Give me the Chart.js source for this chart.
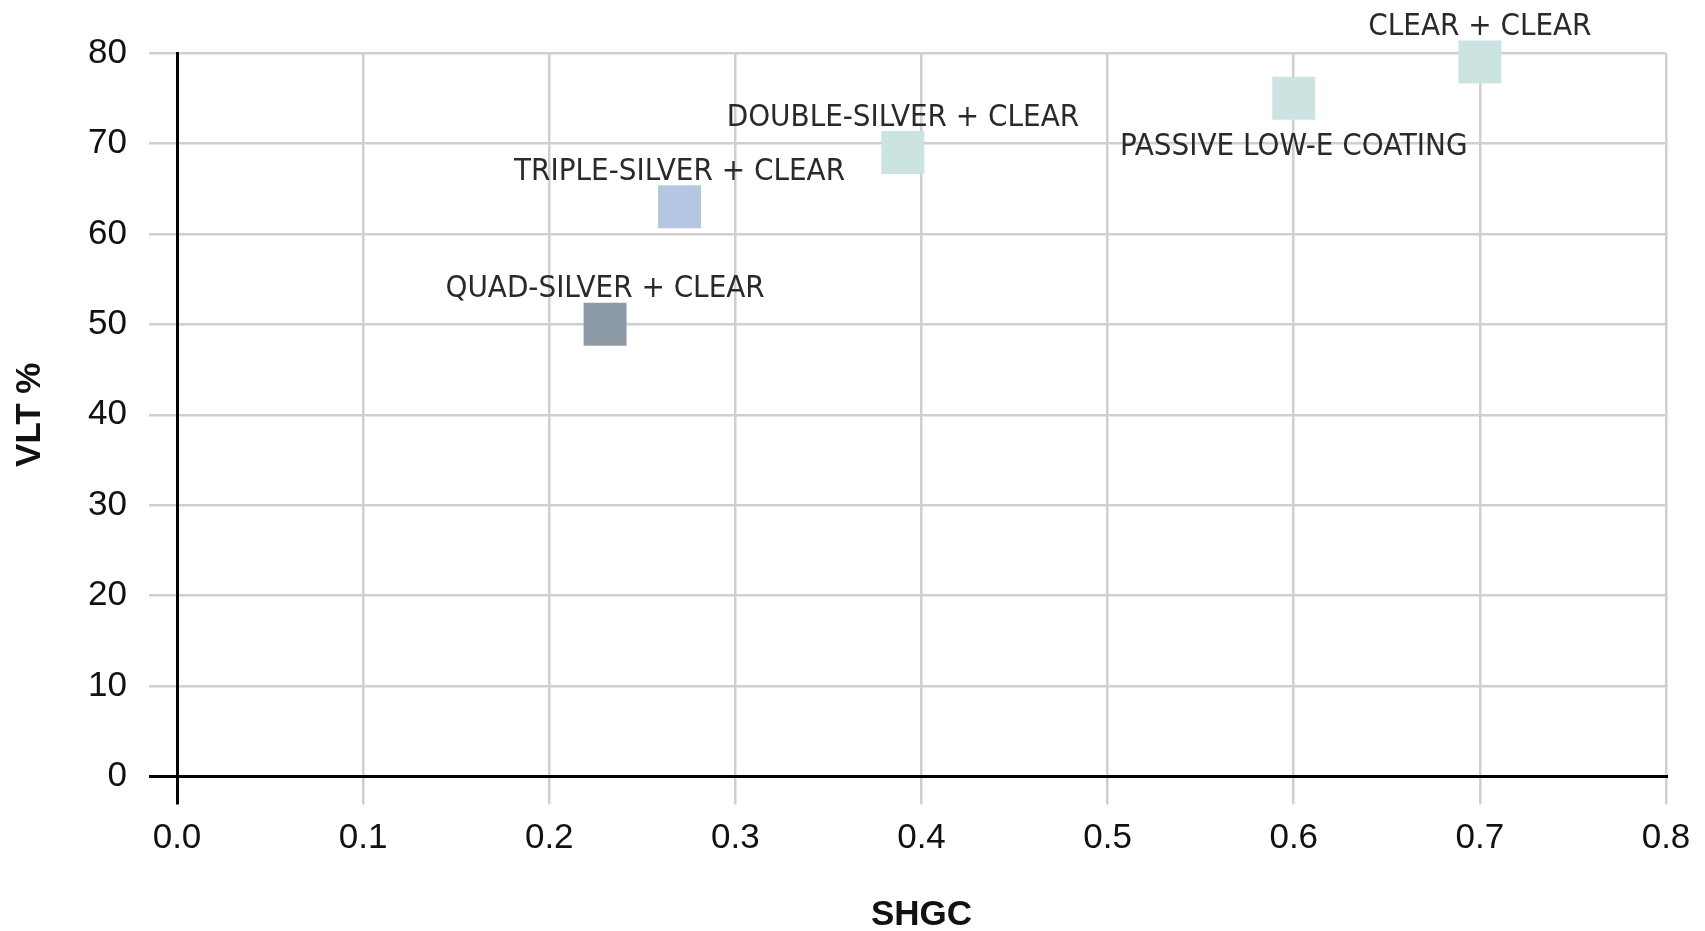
<!DOCTYPE html>
<html>
<head>
<meta charset="utf-8">
<script src="https://cdn.jsdelivr.net/npm/chart.js@4.4.1/dist/chart.umd.min.js"></script>
<style>
  html, body { margin: 0; padding: 0; background: #fff; }
  #wrap { width: 1705px; height: 931px; position: relative; }
</style>
</head>
<body>
<div id="wrap"><canvas id="c"></canvas></div>
<script>
// ---- data ----
const glazingNames = ['QUAD-SILVER + CLEAR', 'TRIPLE-SILVER + CLEAR', 'DOUBLE-SILVER + CLEAR', 'PASSIVE LOW-E COATING', 'CLEAR + CLEAR'];
const shgcValues = [0.23, 0.27, 0.39, 0.60, 0.70];
const vltValues = [50, 63, 69, 75, 79];
const labelSide = ['above', 'above', 'above', 'below', 'above'];
const pointColors = ['#8d9ba7', '#b5c6e3', '#cbe4e2', '#cbe4e2', '#cbe4e2'];
const xTitle = 'SHGC';
const yTitle = 'VLT %';

const NARROW = '"Liberation Sans Narrow", "Arial Narrow", "DejaVu Sans Condensed", "Liberation Sans", sans-serif';
const REG = '"Liberation Sans", Arial, sans-serif';

const pointLabels = {
  id: 'pointLabels',
  afterDatasetsDraw(chart) {
    const ctx = chart.ctx;
    const meta = chart.getDatasetMeta(0);
    ctx.save();
    ctx.font = '31px ' + NARROW;
    ctx.fillStyle = '#2a2a2a';
    ctx.textAlign = 'center';
    ctx.textBaseline = 'middle';
    meta.data.forEach((el, i) => {
      const dy = labelSide[i] === 'below' ? 49 : -35;
      ctx.fillText(glazingNames[i], el.x, el.y + dy);
    });
    ctx.restore();
  }
};

const gridColor = (c) => (c.tick && c.tick.value === 0) ? '#000' : '#cfcfcf';
const gridWidth = (c) => (c.tick && c.tick.value === 0) ? 3 : 2.5;

new Chart(document.getElementById('c'), {
  type: 'scatter',
  data: {
    datasets: [{
      data: shgcValues.map((x, i) => ({ x: x, y: vltValues[i] })),
      backgroundColor: pointColors,
      borderWidth: 0,
      pointStyle: 'rect',
      pointRadius: 30.4,
      pointHoverRadius: 30.4,
      clip: false
    }]
  },
  options: {
    responsive: true,
    maintainAspectRatio: false,
    animation: false,
    events: [],
    layout: { padding: { top: 53, right: 39, bottom: 0, left: 0 } },
    plugins: { legend: { display: false }, tooltip: { enabled: false } },
    scales: {
      x: {
        type: 'linear',
        min: 0, max: 0.8,
        afterFit(s) { s.height = 154.5; },
        ticks: {
          stepSize: 0.1,
          padding: 13,
          color: '#111',
          font: { family: REG, size: 35 },
          callback: (v) => Number(v).toFixed(1)
        },
        grid: { color: gridColor, lineWidth: gridWidth, tickLength: 28 },
        border: { display: true, color: '#000', width: 3 },
        title: {
          display: true, text: xTitle, color: '#111',
          font: { family: REG, size: 35, weight: 'bold', lineHeight: 1 },
          padding: { top: 0, bottom: -2 }
        }
      },
      y: {
        type: 'linear',
        min: 0, max: 80,
        afterFit(s) { s.width = 177; },
        ticks: {
          stepSize: 10,
          padding: 22,
          color: '#111',
          font: { family: REG, size: 35 }
        },
        grid: { color: gridColor, lineWidth: gridWidth, tickLength: 28 },
        border: { display: true, color: '#000', width: 3 },
        title: {
          display: true, text: yTitle, color: '#111',
          font: { family: REG, size: 35, weight: 'bold', lineHeight: 1 },
          padding: { top: 13, bottom: 0 }
        }
      }
    }
  },
  plugins: [pointLabels]
});
</script>
</body>
</html>
